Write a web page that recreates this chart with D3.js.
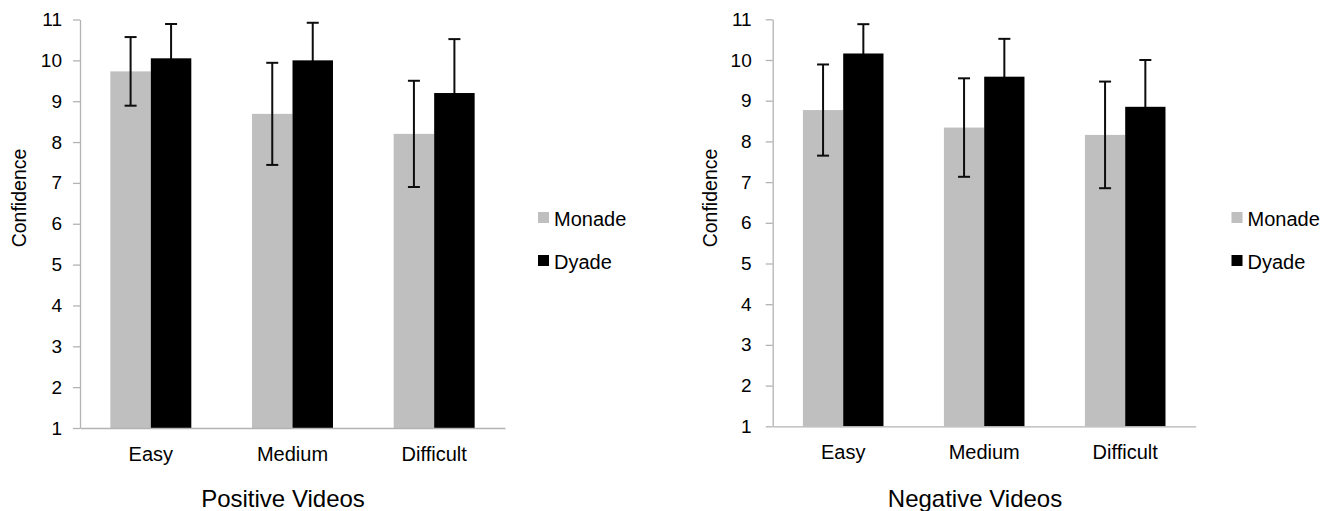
<!DOCTYPE html>
<html>
<head>
<meta charset="utf-8">
<script src="https://cdn.jsdelivr.net/npm/d3@7"></script>
<style>
  html, body { margin: 0; padding: 0; background: #fff; }
  svg { display: block; }
  text { font-family: "Liberation Sans", Arial, sans-serif; fill: #000; }
</style>
</head>
<body>
<svg id="chart" width="1333" height="511"></svg>
<script>
// ---- data ----
const categories = ["Easy", "Medium", "Difficult"];
const seriesNames = ["Monade", "Dyade"];
const yTickValues = [1, 2, 3, 4, 5, 6, 7, 8, 9, 10, 11];

const positiveMonade = [9.73, 8.69, 8.20];
const positiveDyade = [10.05, 10.00, 9.20];
const positiveMonadeErr = [0.84, 1.25, 1.30];
const positiveDyadeErr = [0.84, 0.92, 1.32];

const negativeMonade = [8.77, 8.34, 8.16];
const negativeDyade = [10.16, 9.59, 8.85];
const negativeMonadeErr = [1.12, 1.21, 1.31];
const negativeDyadeErr = [0.72, 0.93, 1.15];

const yAxisTitle = "Confidence";
const panelTitles = ["Positive Videos", "Negative Videos"];

// ---- drawing ----
const colors = { Monade: "#bfbfbf", Dyade: "#000000" };
const axisColor = "#b3b3b3";
const errColor = "#0d0d0d";
const svg = d3.select("#chart");

const panels = [
  { title: panelTitles[0], monade: positiveMonade, dyade: positiveDyade, monErr: positiveMonadeErr, dyErr: positiveDyadeErr,
    x0: 80, x1: 505, yTop: 19.5, yBot: 428, tickPad: 11, yTitleX: 25.5, titleX: 283, legendX: 538 },
  { title: panelTitles[1], monade: negativeMonade, dyade: negativeDyade, monErr: negativeMonadeErr, dyErr: negativeDyadeErr,
    x0: 772.7, x1: 1195.7, yTop: 19.3, yBot: 426.3, tickPad: 14, yTitleX: 716.5, titleX: 975, legendX: 1231.5 }
];

panels.forEach(p => {
  const g = svg.append("g");
  const x = d3.scaleBand().domain(categories).range([p.x0, p.x1]).padding(0);
  const xs = d3.scaleBand().domain(seriesNames).range([0, x.bandwidth()]).paddingInner(0).paddingOuter(0.75);
  const y = d3.scaleLinear().domain([1, 11]).range([p.yBot, p.yTop]);

  const rows = categories.map((c, i) => ({
    cat: c,
    vals: [
      { s: "Monade", v: p.monade[i], e: p.monErr[i] },
      { s: "Dyade", v: p.dyade[i], e: p.dyErr[i] }
    ]
  }));

  const groups = g.selectAll("g.cat").data(rows).join("g")
    .attr("class", "cat")
    .attr("transform", d => `translate(${x(d.cat)},0)`);

  function drawBars(sel, name) {
    sel.selectAll("rect." + name).data(d => d.vals.filter(v => v.s === name)).join("rect")
      .attr("class", name)
      .attr("x", d => xs(d.s))
      .attr("width", xs.bandwidth())
      .attr("y", d => y(d.v))
      .attr("height", d => y(1) - y(d.v))
      .attr("fill", d => colors[d.s]);
  }

  // Monade bars, then error bars, then Dyade bars (hides the lower half inside black bars)
  drawBars(groups, "Monade");

  const eb = groups.selectAll("g.err").data(d => d.vals).join("g").attr("class", "err")
    .attr("transform", d => `translate(${xs(d.s) + xs.bandwidth() / 2},0)`);
  eb.append("line").attr("x1", 0).attr("x2", 0)
    .attr("y1", d => y(d.v + d.e)).attr("y2", d => y(d.v - d.e))
    .attr("stroke", errColor).attr("stroke-width", 2);
  eb.append("line").attr("x1", -6).attr("x2", 6)
    .attr("y1", d => y(d.v + d.e)).attr("y2", d => y(d.v + d.e))
    .attr("stroke", errColor).attr("stroke-width", 2);
  eb.append("line").attr("x1", -6).attr("x2", 6)
    .attr("y1", d => y(d.v - d.e)).attr("y2", d => y(d.v - d.e))
    .attr("stroke", errColor).attr("stroke-width", 2);

  drawBars(groups, "Dyade");

  // y axis
  const yAxis = d3.axisLeft(y).tickValues(yTickValues).tickSize(7).tickSizeOuter(0).tickPadding(p.tickPad)
    .tickFormat(d3.format("d"));
  const ya = g.append("g").attr("transform", `translate(${p.x0},0)`).call(yAxis);
  ya.select(".domain").attr("stroke", axisColor).attr("stroke-width", 1.3);
  ya.selectAll(".tick line").attr("stroke", axisColor).attr("stroke-width", 1.3);
  ya.selectAll(".tick text").attr("font-size", 19).attr("fill", "#000")
    .attr("font-family", "'Liberation Sans', Arial, sans-serif");

  // x axis
  const xAxis = d3.axisBottom(x).tickSize(0).tickSizeOuter(0).tickPadding(18.5);
  const xa = g.append("g").attr("transform", `translate(0,${p.yBot})`).call(xAxis);
  xa.select(".domain").attr("stroke", axisColor).attr("stroke-width", 1.3);
  xa.selectAll(".tick text").attr("font-size", 20).attr("fill", "#000")
    .attr("font-family", "'Liberation Sans', Arial, sans-serif");

  // y axis title
  g.append("text")
    .attr("transform", `translate(${p.yTitleX},198) rotate(-90)`)
    .attr("text-anchor", "middle")
    .attr("font-size", 19.5)
    .text(yAxisTitle);

  // panel title
  g.append("text")
    .attr("x", p.titleX).attr("y", 507)
    .attr("text-anchor", "middle")
    .attr("font-size", 24)
    .text(p.title);

  // legend
  const leg = g.append("g").attr("transform", `translate(${p.legendX},212)`);
  seriesNames.forEach((s, i) => {
    leg.append("rect").attr("x", 0).attr("y", i * 43).attr("width", 11).attr("height", 11)
      .attr("fill", colors[s]);
    leg.append("text").attr("x", 16).attr("y", i * 43 + 13.5)
      .attr("font-size", 20).text(s);
  });
});
</script>
</body>
</html>
